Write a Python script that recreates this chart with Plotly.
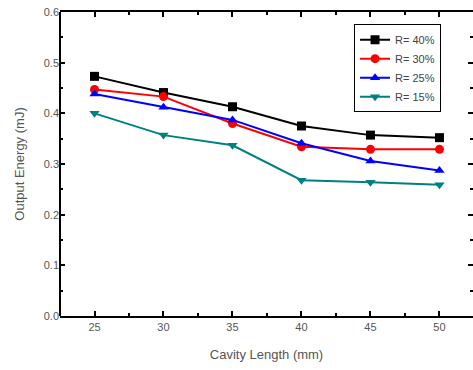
import plotly.graph_objects as go

cavity_length = [25, 30, 35, 40, 45, 50]
r40 = [0.473, 0.441, 0.413, 0.375, 0.357, 0.352]
r30 = [0.447, 0.433, 0.380, 0.334, 0.329, 0.329]
r25 = [0.438, 0.412, 0.387, 0.341, 0.306, 0.287]
r15 = [0.400, 0.357, 0.337, 0.268, 0.264, 0.259]

series = [
    ("R= 40%", r40, "#000000", "square"),
    ("R= 30%", r30, "#ff0000", "circle"),
    ("R= 25%", r25, "#0000ff", "triangle-up"),
    ("R= 15%", r15, "#008080", "triangle-down"),
]

fig = go.Figure()
for name, ys, color, sym in series:
    fig.add_trace(go.Scatter(
        x=cavity_length, y=ys, name=name, mode="lines+markers",
        line=dict(color=color, width=2),
        marker=dict(symbol=sym, size=9, color=color),
    ))

tick_common = dict(
    ticks="inside", ticklen=5, tickwidth=2, tickcolor="black",
    showgrid=False, zeroline=False,
    tickfont=dict(family="Liberation Sans, Arial", size=11, color="#555555"),
)
title_font = dict(family="Liberation Sans, Arial", size=13, color="#555555")

fig.update_layout(
    width=473, height=370,
    margin=dict(l=60, r=0, t=12, b=54),
    plot_bgcolor="white", paper_bgcolor="white",
    xaxis=dict(
        range=[22.5, 52.43], tickvals=[25, 30, 35, 40, 45, 50],
        showline=True, linecolor="black", linewidth=2, mirror="ticks",
        minor=dict(ticks="inside", ticklen=3, tickwidth=1.5, tickcolor="black", dtick=2.5, tick0=22.5),
        title=dict(text="Cavity Length (mm)", font=title_font, standoff=18),
        **tick_common,
    ),
    yaxis=dict(
        range=[0, 0.6], dtick=0.1, tickformat=".1f",
        showline=False, mirror="ticks",
        minor=dict(ticks="inside", ticklen=3, tickwidth=1.5, tickcolor="black", dtick=0.05),
        title=dict(text="Output Energy (mJ)", font=title_font, standoff=16),
        **tick_common,
    ),
    legend=dict(
        x=0.712, y=0.96, xanchor="left", yanchor="top",
        bordercolor="black", borderwidth=1, bgcolor="white",
        font=dict(family="Liberation Sans, Arial", size=11, color="#444444"),
        itemwidth=30, tracegroupgap=0,
    ),
    shapes=[dict(type="line", xref="paper", yref="paper", x0=0, x1=0, y0=0, y1=1,
                 line=dict(color="black", width=2))],
    showlegend=True,
)

fig.write_html("out.html")
